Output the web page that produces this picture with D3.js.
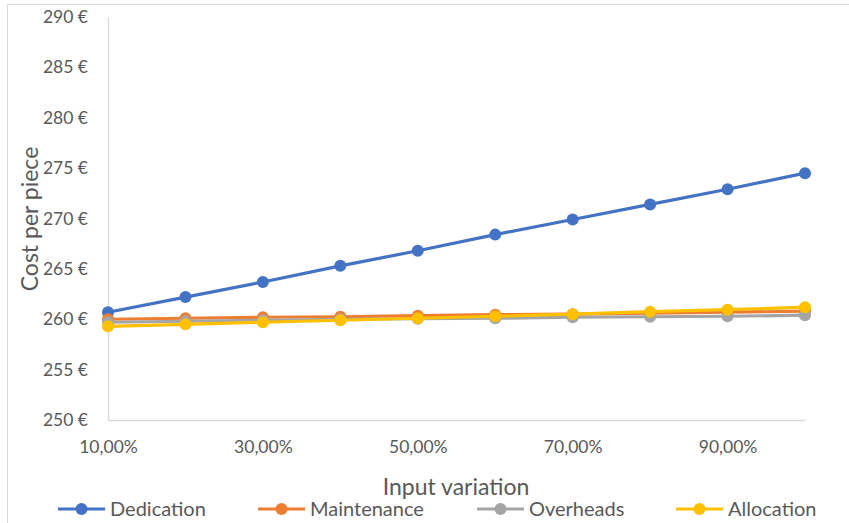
<!DOCTYPE html>
<html>
<head>
<meta charset="utf-8">
<script src="https://cdn.jsdelivr.net/npm/d3@7"></script>
<style>
  html, body { margin: 0; padding: 0; background: #fff; }
  svg { display: block; font-family: Lato, "Open Sans", sans-serif; }
</style>
</head>
<body>
<svg id="chart" width="849" height="523"></svg>
<script>
// Input variation steps (fraction of input)
const variation = [0.1, 0.2, 0.3, 0.4, 0.5, 0.6, 0.7, 0.8, 0.9, 1.0];
// Cost per piece (€) for each scenario
const dedication  = [260.7, 262.2, 263.7, 265.3, 266.8, 268.4, 269.9, 271.4, 272.9, 274.5];
const maintenance = [260.0, 260.1, 260.2, 260.25, 260.35, 260.45, 260.5, 260.6, 260.7, 260.8];
const overheads   = [259.7, 259.8, 259.9, 260.0, 260.05, 260.1, 260.2, 260.25, 260.3, 260.4];
const allocation  = [259.3, 259.5, 259.7, 259.9, 260.1, 260.3, 260.5, 260.75, 260.95, 261.2];
const seriesNames = ["Dedication", "Maintenance", "Overheads", "Allocation"];
const seriesColors = ["#4472C4", "#ED7D31", "#A5A5A5", "#FFC000"];
const yTicks = [250, 255, 260, 265, 270, 275, 280, 285, 290];
const xTicks = [0.1, 0.3, 0.5, 0.7, 0.9];

const series = [dedication, maintenance, overheads, allocation].map((vals, i) => ({
  name: seriesNames[i], color: seriesColors[i],
  points: vals.map((v, j) => ({ x: variation[j], y: v }))
}));

const svg = d3.select("#chart");
const plotLeft = 108, plotRight = 805, plotTop = 17, plotBottom = 420;
const textColor = "#595959";

// chart frame
svg.append("rect").attr("x", 7.5).attr("y", 4.5).attr("width", 860).attr("height", 540)
  .attr("fill", "none").attr("stroke", "#D9D9D9").attr("stroke-width", 1);

const x = d3.scaleLinear().domain([0.1, 1.0]).range([plotLeft, plotRight]);
const y = d3.scaleLinear().domain([250, 290]).range([plotBottom, plotTop]);

// y axis
const yAxis = svg.append("g").attr("transform", `translate(${plotLeft},0)`)
  .call(d3.axisLeft(y).tickValues(yTicks).tickSize(0).tickPadding(20)
    .tickFormat(d => d + " €"));
yAxis.select(".domain").attr("stroke", "#D9D9D9").attr("stroke-width", 1.3);
yAxis.selectAll("text").attr("fill", textColor).attr("font-size", 17.5)
  .attr("font-family", "Lato, sans-serif");

// x axis
const xAxis = svg.append("g").attr("transform", `translate(0,${plotBottom})`)
  .call(d3.axisBottom(x).tickValues(xTicks).tickSize(0).tickPadding(21)
    .tickFormat(d => d3.format(".2f")(d * 100).replace(".", ",") + "%"));
xAxis.select(".domain").attr("stroke", "#D9D9D9").attr("stroke-width", 1.3);
xAxis.selectAll("text").attr("fill", textColor).attr("font-size", 17.5)
  .attr("font-family", "Lato, sans-serif");

// axis titles
svg.append("text").attr("transform", "translate(38,219) rotate(-90)")
  .attr("text-anchor", "middle").attr("fill", textColor).attr("font-size", 23)
  .text("Cost per piece");
svg.append("text").attr("x", 456).attr("y", 495)
  .attr("text-anchor", "middle").attr("fill", textColor).attr("font-size", 23)
  .text("Input variation");

// series lines and markers
const line = d3.line().x(d => x(d.x)).y(d => y(d.y));
series.forEach(s => {
  const g = svg.append("g");
  g.append("path").datum(s.points).attr("d", line)
    .attr("fill", "none").attr("stroke", s.color).attr("stroke-width", 3.2)
    .attr("stroke-linejoin", "round");
  g.selectAll("circle").data(s.points).join("circle")
    .attr("cx", d => x(d.x)).attr("cy", d => y(d.y)).attr("r", 6)
    .attr("fill", s.color);
});

// legend
const legendX = [58, 258, 477, 676];
const legend = svg.append("g");
series.forEach((s, i) => {
  const g = legend.append("g").attr("transform", `translate(${legendX[i]},509)`);
  g.append("line").attr("x1", 0).attr("x2", 47).attr("y1", 0).attr("y2", 0)
    .attr("stroke", s.color).attr("stroke-width", 3.2);
  g.append("circle").attr("cx", 23.5).attr("cy", 0).attr("r", 6).attr("fill", s.color);
  g.append("text").attr("x", 52).attr("y", 7).attr("fill", textColor)
    .attr("font-size", 20).text(s.name);
});
</script>
</body>
</html>
